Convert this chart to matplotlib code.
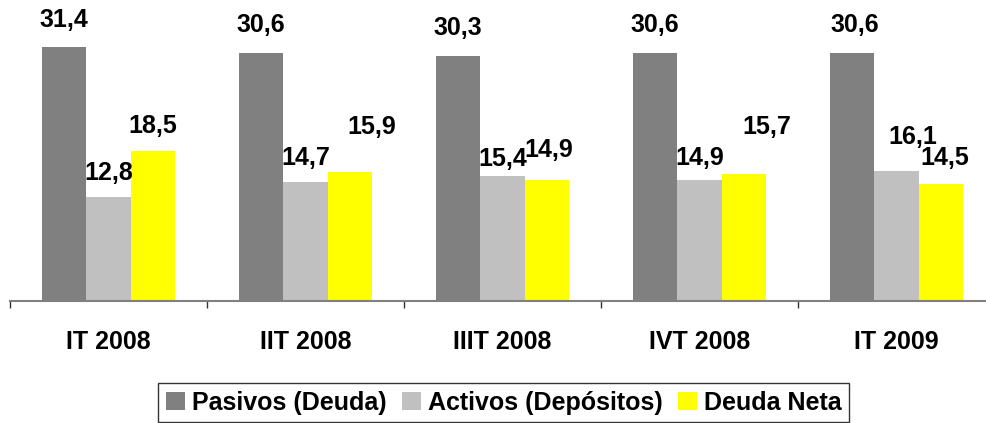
import numpy as np
import matplotlib
matplotlib.use('Agg')
import matplotlib.pyplot as plt

plt.rcParams['font.family'] = ['Liberation Sans', 'DejaVu Sans']

quarters = ['IT 2008', 'IIT 2008', 'IIIT 2008', 'IVT 2008', 'IT 2009']
pasivos = [31.4, 30.6, 30.3, 30.6, 30.6]
activos = [12.8, 14.7, 15.4, 14.9, 16.1]
deuda_neta = [18.5, 15.9, 14.9, 15.7, 14.5]

series = [
    ('Pasivos (Deuda)', pasivos, '#808080'),
    ('Activos (Depósitos)', activos, '#c0c0c0'),
    ('Deuda Neta', deuda_neta, '#ffff00'),
]

# label offsets in pixels (dx, dy) from top centre of each bar
offsets = [
    [(0, 27), (0, 28), (0, 28), (0, 28), (3, 28)],
    [(0, 24), (0, 24), (0, 17), (0, 22), (16, 34)],
    [(0, 25), (22, 45), (2, 30), (23, 47), (4, 26)],
]

W, H = 986, 423
fig = plt.figure(figsize=(W / 100, H / 100), dpi=100)
ax = fig.add_axes([10 / W, (H - 301) / H, 985 / W, 283.5 / H])

x = np.arange(len(quarters))
bw = 0.226
for i, (name, vals, col) in enumerate(series):
    pos = x + (i - 1) * bw
    ax.bar(pos, vals, bw, color=col, label=name, zorder=2)
    for j, v in enumerate(vals):
        dx, dy = offsets[i][j]
        ax.annotate(f'{v:.1f}'.replace('.', ','), (pos[j], v),
                    xytext=(dx, dy), textcoords='offset pixels',
                    ha='center', va='center', fontsize=18,
                    fontweight='bold')

ax.set_xlim(-0.5, len(quarters) - 0.5)
ax.set_ylim(0, 35)

for s in ['left', 'right', 'top']:
    ax.spines[s].set_visible(False)
ax.spines['bottom'].set_color('#808080')
ax.spines['bottom'].set_linewidth(1.5)
ax.spines['bottom'].set_zorder(3)

ax.set_yticks([])
ax.set_xticks(np.arange(len(quarters) + 1) - 0.5)
ax.set_xticklabels([])
ax.tick_params(axis='x', which='major', length=5, width=1, color='#333333',
               direction='out')
ax.set_xticks(x, minor=True)
ax.set_xticklabels(quarters, minor=True, fontsize=18, fontweight='bold')
ax.tick_params(axis='x', which='minor', length=0, pad=21)

leg = fig.legend(loc='upper center', bbox_to_anchor=(0.511, (H - 383) / H),
                 ncol=3, frameon=True, fancybox=False, edgecolor='black',
                 prop={'weight': 'bold', 'size': 18},
                 handlelength=0.75, handleheight=0.75, handletextpad=0.3,
                 columnspacing=0.6, borderaxespad=0, borderpad=0.3)
leg.get_frame().set_linewidth(1)

fig.savefig('out.png', dpi=100)
